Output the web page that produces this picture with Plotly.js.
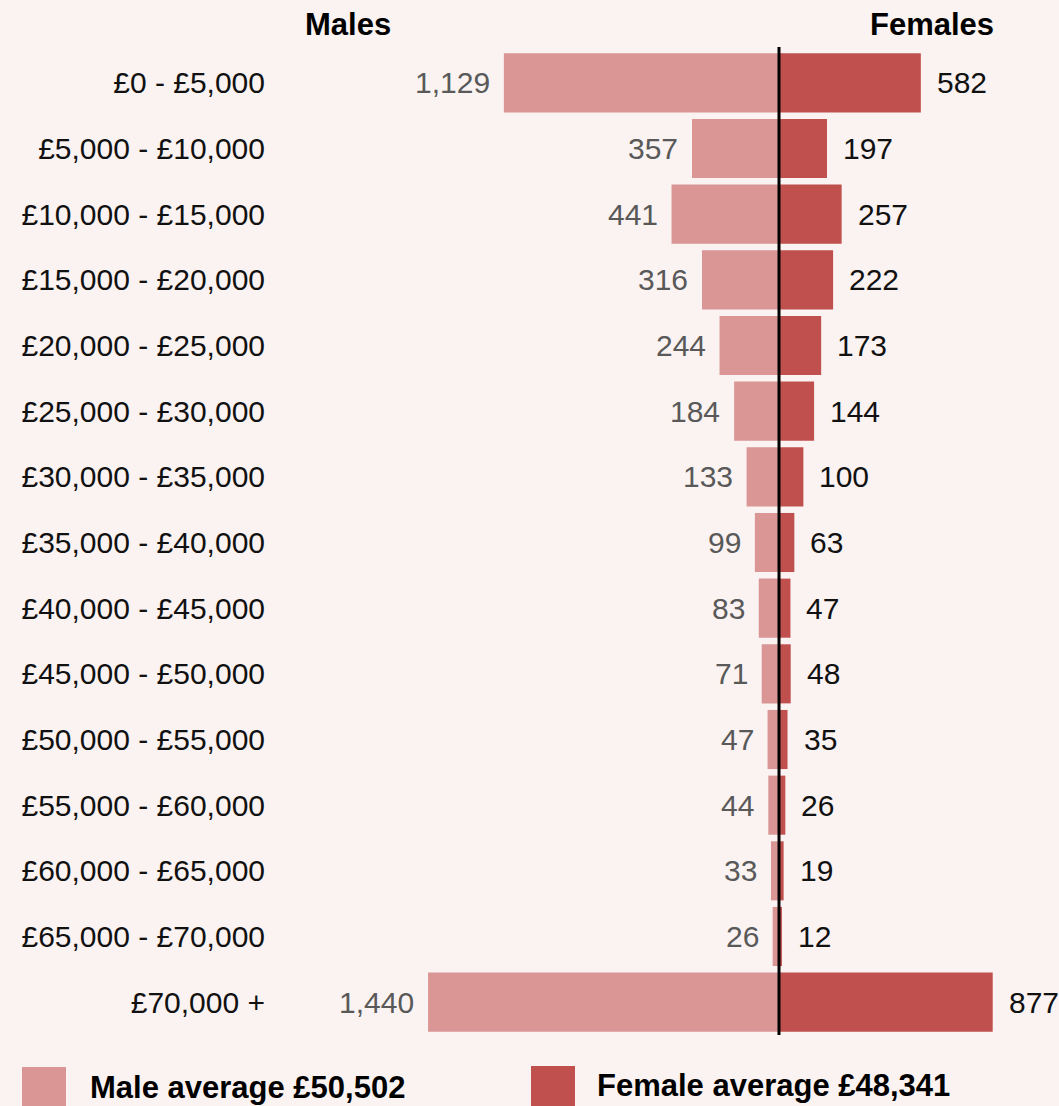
<!DOCTYPE html>
<html>
<head>
<meta charset="utf-8">
<script src="https://cdn.plot.ly/plotly-3.0.1.min.js"></script>
<style>
  html, body { margin: 0; padding: 0; background: #fbf3f2; }
  #chart { width: 1059px; height: 1106px; }
</style>
</head>
<body>
<div id="chart"></div>
<script>
const categories = [
  "£0 - £5,000", "£5,000 - £10,000", "£10,000 - £15,000", "£15,000 - £20,000",
  "£20,000 - £25,000", "£25,000 - £30,000", "£30,000 - £35,000", "£35,000 - £40,000",
  "£40,000 - £45,000", "£45,000 - £50,000", "£50,000 - £55,000", "£55,000 - £60,000",
  "£60,000 - £65,000", "£65,000 - £70,000", "£70,000 +"
];
const males =   [1129, 357, 441, 316, 244, 184, 133, 99, 83, 71, 47, 44, 33, 26, 1440];
const females = [582, 197, 257, 222, 173, 144, 100, 63, 47, 48, 35, 26, 19, 12, 877];
const legendLabels = ["Male average £50,502", "Female average £48,341"];
const headers = ["Males", "Females"];

const maleColor = "#d99694";
const femaleColor = "#c0504d";
const bg = "#fbf3f2";
const fmt = v => v.toLocaleString("en-GB");

const traces = [
  {
    type: "bar", orientation: "h", name: legendLabels[0],
    y: categories, x: males.map(v => -v),
    marker: { color: maleColor }, hoverinfo: "skip"
  },
  {
    type: "bar", orientation: "h", name: legendLabels[1],
    y: categories, x: females,
    marker: { color: femaleColor }, hoverinfo: "skip"
  }
];

const annotations = [];
categories.forEach((c, i) => {
  annotations.push({
    x: -males[i], y: c, xref: "x", yref: "y", text: fmt(males[i]),
    showarrow: false, xanchor: "right", xshift: -12,
    font: { family: "Liberation Sans, Arial, sans-serif", size: 30, color: "#595959" }
  });
  annotations.push({
    x: females[i], y: c, xref: "x", yref: "y", text: fmt(females[i]),
    showarrow: false, xanchor: "left", xshift: 14,
    font: { family: "Liberation Sans, Arial, sans-serif", size: 30, color: "#111111" }
  });
});
// headers
annotations.push({
  xref: "paper", yref: "paper", x: 0.0877, y: 1.0, xanchor: "center", yanchor: "bottom", yshift: 6,
  text: "<b>" + headers[0] + "</b>", showarrow: false,
  font: { family: "Liberation Sans, Arial, sans-serif", size: 31, color: "#000" }
});
annotations.push({
  xref: "paper", yref: "paper", x: 0.8369, y: 1.0, xanchor: "center", yanchor: "bottom", yshift: 6,
  text: "<b>" + headers[1] + "</b>", showarrow: false,
  font: { family: "Liberation Sans, Arial, sans-serif", size: 31, color: "#000" }
});
// legend texts
const pw = 779, ph = 987, plotL = 280, plotB = 1035;
const px = x => (x - plotL) / pw;
const py = y => (plotB - y) / ph;
annotations.push({
  xref: "paper", yref: "paper", x: px(88), y: py(1088), xanchor: "left", yanchor: "middle",
  text: "<b>" + legendLabels[0] + "</b>", showarrow: false,
  font: { family: "Liberation Sans, Arial, sans-serif", size: 31, color: "#000" }
});
annotations.push({
  xref: "paper", yref: "paper", x: px(595), y: py(1086), xanchor: "left", yanchor: "middle",
  text: "<b>" + legendLabels[1] + "</b>", showarrow: false,
  font: { family: "Liberation Sans, Arial, sans-serif", size: 31, color: "#000" }
});

const shapes = [
  { type: "rect", xref: "paper", yref: "paper", x0: px(22), x1: px(66), y0: py(1067), y1: py(1112),
    fillcolor: maleColor, line: { width: 0 } },
  { type: "rect", xref: "paper", yref: "paper", x0: px(531), x1: px(575), y0: py(1066), y1: py(1112),
    fillcolor: femaleColor, line: { width: 0 } },
  { type: "line", xref: "x", yref: "paper", x0: 0, x1: 0, y0: 0, y1: 1.003,
    line: { color: "#000", width: 3 } }
];

const scale = 0.2437;
const layout = {
  width: 1059, height: 1106,
  margin: { l: plotL, r: 0, t: 50, b: 1106 - plotB },
  paper_bgcolor: bg, plot_bgcolor: bg,
  barmode: "relative", bargap: 0.1,
  showlegend: false,
  xaxis: {
    range: [-(779 - plotL) / scale, (1059 - 779) / scale],
    showgrid: false, zeroline: false, showticklabels: false, ticks: "", fixedrange: true
  },
  yaxis: {
    type: "category", autorange: "reversed",
    showgrid: false, zeroline: false, ticks: "", ticklabelstandoff: 14,
    tickfont: { family: "Liberation Sans, Arial, sans-serif", size: 30, color: "#111111" }
  },
  annotations: annotations,
  shapes: shapes
};

Plotly.newPlot("chart", traces, layout, { displayModeBar: false, staticPlot: true });
</script>
</body>
</html>
